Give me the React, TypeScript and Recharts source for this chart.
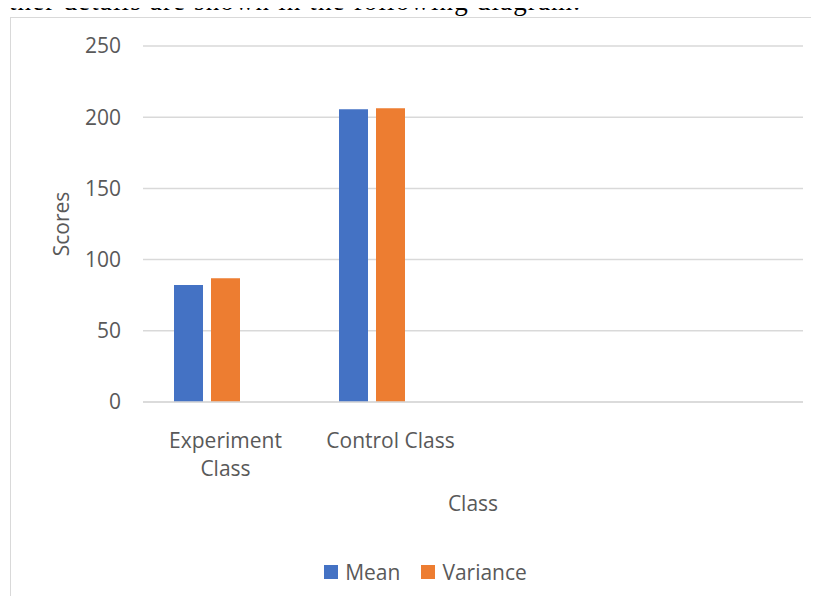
import React from "react";
import { BarChart, Bar, XAxis, YAxis, CartesianGrid } from "recharts";

const categories = ["Experiment Class", "Control Class", "", ""];
const meanValues = [82.2, 205.6, null, null];
const varianceValues = [86.9, 206.3, null, null];
// third series is empty but still reserves its slot in each group
const series3Values = [null, null, null, null];
const yTicks = [0, 50, 100, 150, 200, 250];

const series = [
  { key: "Mean", color: "#4472c4" },
  { key: "Variance", color: "#ed7d31" },
];

const data = categories.map((name, i) => ({
  name,
  Mean: meanValues[i],
  Variance: varianceValues[i],
  Series3: series3Values[i],
}));

const FONT = "'Open Sans', sans-serif";
const TEXT = "#595959";
const GRID = "#d9d9d9";
const FS = 21;

// wrap long category labels onto two lines like the original axis
const CategoryTick = (props: any) => {
  const { x, y, payload } = props;
  const label: string = payload.value || "";
  const tooLong = label.length * FS * 0.55 > 160;
  const lines = tooLong ? label.split(" ") : [label];
  return (
    <text x={x} y={y} textAnchor="middle" fill={TEXT} fontFamily={FONT} fontSize={FS}>
      {lines.map((l, i) => (
        <tspan key={i} x={x} dy={i === 0 ? 38 : 28}>
          {l}
        </tspan>
      ))}
    </text>
  );
};

export default function App() {
  return (
    <div
      style={{
        position: "relative",
        width: 819,
        height: 604,
        margin: -8,
        overflow: "hidden",
        background: "#fff",
      }}
    >
      <svg width={819} height={20} style={{ position: "absolute", left: 0, top: 0 }}>
        <text
          x={-32}
          y={10}
          textLength={612}
          lengthAdjust="spacing"
          fontFamily="'Liberation Serif', serif"
          fontSize={27}
          fill="#000"
        >
          Further details are shown in the following diagram.
        </text>
      </svg>
      <div
        style={{
          position: "absolute",
          left: 10,
          top: 17,
          width: 900,
          height: 700,
          border: `1.5px solid ${GRID}`,
          boxSizing: "border-box",
        }}
      />
      <div style={{ position: "absolute", left: 0, top: 0 }}>
        <BarChart
          width={819}
          height={604}
          data={data}
          margin={{ top: 46, right: 16, bottom: 0, left: 0 }}
          barSize={29}
          barGap={8}
        >
          <CartesianGrid vertical={false} stroke={GRID} strokeWidth={1.5} />
          <XAxis
            dataKey="name"
            height={202}
            axisLine={{ stroke: GRID, strokeWidth: 1.5 }}
            tickLine={false}
            tick={<CategoryTick />}
            interval={0}
            label={(p: any) => {
              const vb = p.viewBox;
              return (
                <text
                  x={vb.x + vb.width / 2}
                  y={vb.y + 109}
                  textAnchor="middle"
                  fill={TEXT}
                  fontFamily={FONT}
                  fontSize={FS}
                >
                  Class
                </text>
              );
            }}
          />
          <YAxis
            width={143}
            domain={[0, 250]}
            ticks={yTicks}
            axisLine={false}
            tickLine={false}
            tickSize={0}
            tickMargin={22}
            tick={{ fill: TEXT, fontFamily: FONT, fontSize: FS }}
            label={(p: any) => {
              const vb = p.viewBox;
              const cx = 61;
              const cy = vb.y + vb.height / 2;
              return (
                <text
                  x={cx}
                  y={cy}
                  transform={`rotate(-90 ${cx} ${cy})`}
                  textAnchor="middle"
                  dominantBaseline="central"
                  fill={TEXT}
                  fontFamily={FONT}
                  fontSize={FS}
                >
                  Scores
                </text>
              );
            }}
          />
          <Bar dataKey="Mean" fill="#4472c4" isAnimationActive={false} />
          <Bar dataKey="Variance" fill="#ed7d31" isAnimationActive={false} />
          <Bar dataKey="Series3" fill="#a5a5a5" isAnimationActive={false} />
        </BarChart>
      </div>
      <div
        style={{
          position: "absolute",
          left: 10,
          width: 831,
          top: 558,
          display: "flex",
          justifyContent: "center",
          gap: 21,
          fontFamily: FONT,
          fontSize: FS,
          color: TEXT,
        }}
      >
        {series.map((s) => (
          <div key={s.key} style={{ display: "flex", alignItems: "center", gap: 7 }}>
            <span style={{ width: 14, height: 14, background: s.color, display: "inline-block" }} />
            <span>{s.key}</span>
          </div>
        ))}
      </div>
    </div>
  );
}
